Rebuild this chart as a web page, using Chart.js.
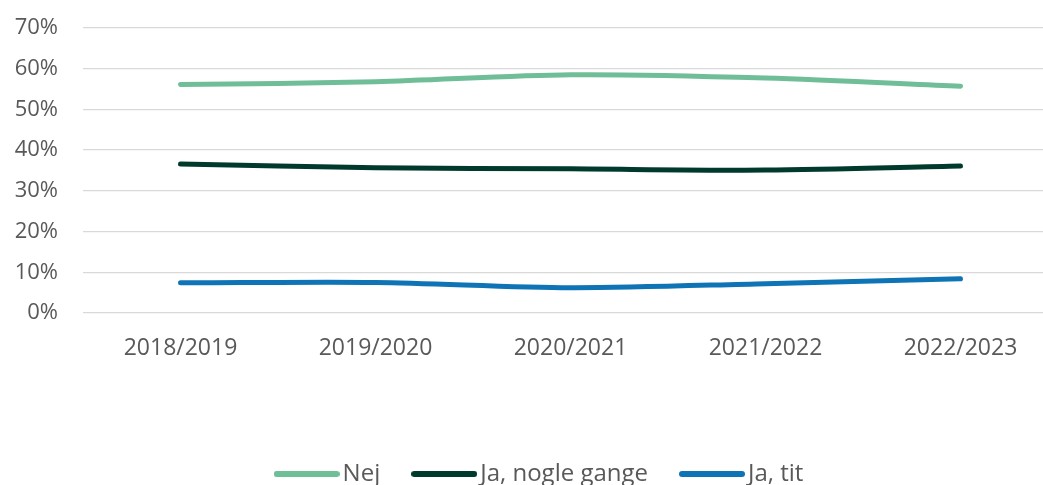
<!DOCTYPE html>
<html>
<head>
<meta charset="utf-8">
<script src="https://cdn.jsdelivr.net/npm/chart.js@4/dist/chart.umd.min.js"></script>
<style>
  html, body { margin: 0; padding: 0; background: #ffffff; overflow: hidden; width: 1043px; height: 485px; }
  #wrap { position: absolute; left: 0; top: 0; width: 1086px; height: 496px; }
</style>
</head>
<body>
<div id="wrap"><canvas id="c"></canvas></div>
<script>
const categories = ['2018/2019', '2019/2020', '2020/2021', '2021/2022', '2022/2023'];
const nej = [56.1, 56.8, 58.5, 57.7, 55.7];
const jaNogleGange = [36.6, 35.7, 35.4, 35.1, 36.1];
const jaTit = [7.4, 7.5, 6.2, 7.2, 8.4];
const yTicks = [0, 10, 20, 30, 40, 50, 60, 70];

const textColor = '#595959';
const font = 'Open Sans';

// legend symbol: a short thick rounded line in the series colour
function legendLine(color) {
  const c = document.createElement('canvas');
  c.width = 66; c.height = 8;
  const g = c.getContext('2d');
  g.strokeStyle = color; g.lineWidth = 6; g.lineCap = 'round';
  g.beginPath(); g.moveTo(3, 4); g.lineTo(63, 4); g.stroke();
  return c;
}

function ds(label, data, color) {
  return {
    label, data,
    borderColor: color, backgroundColor: color,
    borderWidth: 5, borderCapStyle: 'round', borderJoinStyle: 'round',
    pointRadius: 0, pointHoverRadius: 0, pointStyle: legendLine(color),
    tension: 0.3, fill: false
  };
}

new Chart(document.getElementById('c'), {
  type: 'line',
  data: {
    labels: categories,
    datasets: [
      ds('Nej', nej, '#70be98'),
      ds('Ja, nogle gange', jaNogleGange, '#003a2c'),
      ds('Ja, tit', jaTit, '#0f74b6')
    ]
  },
  options: {
    responsive: true,
    maintainAspectRatio: false,
    animation: false,
    layout: { padding: { top: 28, left: 0, right: 0, bottom: 0 } },
    plugins: {
      tooltip: { enabled: false },
      legend: {
        position: 'bottom',
        labels: {
          usePointStyle: true,
          pointStyleWidth: 48,
          padding: 40,
          color: textColor,
          font: { family: font, size: 24 }
        }
      }
    },
    scales: {
      x: {
        type: 'category',
        offset: true,
        grid: { display: false, drawTicks: false },
        border: { display: false },
        ticks: { color: textColor, font: { family: font, size: 23 }, padding: 22, maxRotation: 0 },
        afterFit(axis) { axis.height = 109; }
      },
      y: {
        min: 0, max: 70,
        afterBuildTicks(axis) { axis.ticks = yTicks.map(v => ({ value: v })); },
        grid: { color: '#d9d9d9', lineWidth: 1.3, drawTicks: false },
        border: { display: false },
        ticks: { color: textColor, font: { family: font, size: 22 }, padding: 25, callback: v => v + '%' },
        afterFit(axis) { axis.width = 83; axis.paddingTop = 10; axis.paddingBottom = 10; }
      },
      yRight: {
        position: 'right',
        display: true,
        grid: { display: false, drawTicks: false },
        border: { display: false },
        ticks: { display: false },
        afterFit(axis) { axis.width = 28; }
      }
    }
  }
});
</script>
</body>
</html>
